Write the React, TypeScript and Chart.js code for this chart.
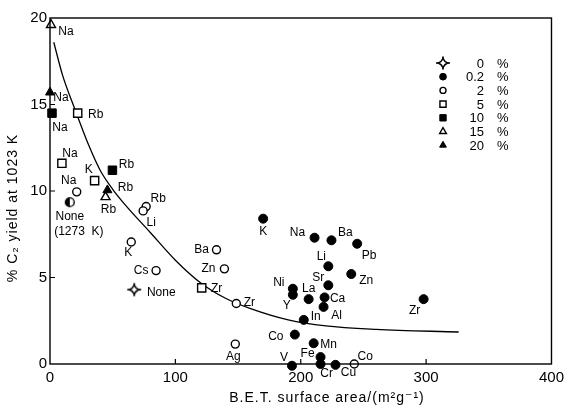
import React, { useEffect, useRef } from 'react';
import { Chart, registerables } from 'chart.js';

Chart.register(...registerables);

// ---------- data ----------
const xTicks = [0, 100, 200, 300, 400];
const yTicks = [0, 5, 10, 15, 20];
const legendValues = ['0', '0.2', '2', '5', '10', '15', '20'];

// fitted curve
const curveX = [3, 10, 20, 30, 40, 50, 60, 80, 100, 120, 140, 160, 190, 220, 260, 326];
const curveY = [18.6, 16.7, 14.7, 12.8, 11.2, 10.1, 9.2, 7.6, 6.0, 4.7, 3.8, 3.2, 2.55, 2.2, 2.0, 1.85];

// 0 % promoter
const s0Names = ['None'];
const s0X = [67.2];
const s0Y = [4.3];

// 0.2 %
const s02Names = ['K', 'Na', 'Ba', 'Pb', 'Li', 'Zn', 'Sr', 'Ni', 'Y', 'La', 'Ca', 'Al', 'Zr', 'In', 'Co', 'Mn', 'V', 'Fe', 'Cr', 'Cu'];
const s02X = [170, 211, 224.5, 245, 222, 240.3, 222, 193.7, 193.7, 206.3, 219, 218.2, 298, 202.4, 195.3, 210.3, 193, 215.8, 215.8, 227.7];
const s02Y = [8.4, 7.3, 7.15, 6.95, 5.65, 5.2, 4.55, 4.35, 4.0, 3.75, 3.85, 3.3, 3.75, 2.55, 1.7, 1.2, -0.1, 0.4, 0.0, -0.05];

// 2 %
const s2Names = ['Na', 'Rb', 'Li', 'K', 'Cs', 'Ba', 'Zn', 'Zr', 'Ag', 'Co'];
const s2X = [21.3, 76.7, 74.3, 64.8, 84.6, 132.8, 139.1, 148.6, 147.8, 242.7];
const s2Y = [9.95, 9.1, 8.85, 7.05, 5.4, 6.6, 5.5, 3.5, 1.15, 0.0];

// 5 %
const s5Names = ['Rb', 'Na', 'K', 'Zr'];
const s5X = [22.1, 9.5, 35.6, 121];
const s5Y = [14.5, 11.6, 10.6, 4.4];

// 10 %
const s10Names = ['Na', 'Rb'];
const s10X = [1.6, 49.8];
const s10Y = [14.5, 11.2];

// 15 %
const s15Names = ['Na', 'Rb'];
const s15X = [0.8, 44.3];
const s15Y = [19.6, 9.65];

// 20 %
const s20Names = ['Na', 'Rb'];
const s20X = [0, 45.8];
const s20Y = [15.7, 10.05];

// no promoter at 1273 K
const sHotNames = ['None|(1273  K)'];
const sHotX = [15.8];
const sHotY = [9.35];

// ---------- label placement (pixel offsets of label centre from the mark) ----------
const s0Off = [[27, 3]];
const s02Off = [[0, 13], [-17, -5], [14, -8], [12, 12], [-7, -10], [15, 7], [-10, -8], [-14, -6], [-6, 11], [0, -10], [13, 1], [13, 9], [-9, 12], [12, -3], [-19, 2], [15, 1], [-8, -8], [-13, -3], [6, 10], [13, 8]];
const s2Off = [[-8, -11], [12, -8], [8, 12], [-3, 11], [-15, 0], [-15, 0], [-16, 0], [13, -1], [-2, 13], [11, -7]];
const s5Off = [[18, 2], [8, -10], [-6, -11], [15, 1]];
const s10Off = [[8, 15], [14, -6]];
const s15Off = [[15, 7], [3, 13]];
const s20Off = [[11, 5], [18, -2]];
const sHotOff = [[0, 14, 9, 29]];

const FONT = '"Liberation Sans", "DejaVu Sans", Arial, sans-serif';

function makeStar(): HTMLCanvasElement {
  const c = document.createElement('canvas');
  c.width = 16; c.height = 16;
  const g = c.getContext('2d')!;
  const m = 8, r = 4.5, k = 1.4;
  g.strokeStyle = '#000';
  g.lineWidth = 1.6;
  g.fillStyle = '#fff';
  g.beginPath();
  g.moveTo(m, m - r);
  g.quadraticCurveTo(m + k, m - k, m + r, m);
  g.quadraticCurveTo(m + k, m + k, m, m + r);
  g.quadraticCurveTo(m - k, m + k, m - r, m);
  g.quadraticCurveTo(m - k, m - k, m, m - r);
  g.closePath();
  g.fill();
  g.stroke();
  g.beginPath();
  g.moveTo(m - r, m); g.lineTo(1, m);
  g.moveTo(m + r, m); g.lineTo(15, m);
  g.moveTo(m, m - r); g.lineTo(m, 1.5);
  g.moveTo(m, m + r); g.lineTo(m, 14.5);
  g.stroke();
  return c;
}

function makeHalf(): HTMLCanvasElement {
  const c = document.createElement('canvas');
  c.width = 12; c.height = 12;
  const g = c.getContext('2d')!;
  g.fillStyle = '#fff';
  g.beginPath(); g.arc(6, 6, 4.4, 0, Math.PI * 2); g.fill();
  g.fillStyle = '#000';
  g.beginPath(); g.arc(6, 6, 4.4, Math.PI / 2, Math.PI * 1.5); g.closePath(); g.fill();
  g.strokeStyle = '#000'; g.lineWidth = 1.4;
  g.beginPath(); g.arc(6, 6, 4.4, 0, Math.PI * 2); g.stroke();
  return c;
}

function pts(xs: number[], ys: number[]) {
  return xs.map((x, i) => ({ x, y: ys[i] }));
}

function drawMarker(ctx: CanvasRenderingContext2D, st: any, x: number, y: number, scale: number) {
  if (typeof st.pointStyle === 'object') {
    const im = st.pointStyle as HTMLCanvasElement;
    const w = im.width * scale, h = im.height * scale;
    ctx.drawImage(im, Math.round(x - w / 2), Math.round(y - h / 2), w, h);
    return;
  }
  const r = st.radius * scale;
  ctx.save();
  ctx.fillStyle = st.bg;
  ctx.strokeStyle = '#000';
  ctx.lineWidth = st.bw;
  ctx.beginPath();
  if (st.pointStyle === 'circle') {
    ctx.arc(x, y, r, 0, Math.PI * 2);
  } else if (st.pointStyle === 'rect') {
    const s = r * Math.SQRT1_2;
    ctx.rect(x - s, y - s, 2 * s, 2 * s);
  } else if (st.pointStyle === 'triangle') {
    for (let i = 0; i < 3; i++) {
      const a = (i * 2 * Math.PI) / 3;
      const px = x + Math.sin(a) * r, py = y - Math.cos(a) * r;
      if (i === 0) ctx.moveTo(px, py); else ctx.lineTo(px, py);
    }
    ctx.closePath();
  }
  ctx.fill();
  ctx.stroke();
  ctx.restore();
}

export default function App() {
  const ref = useRef<HTMLCanvasElement>(null);

  useEffect(() => {
    const star = makeStar();
    const half = makeHalf();

    const series = [
      { names: s0Names, xs: s0X, ys: s0Y, off: s0Off, st: { pointStyle: star, radius: 7, bg: '#fff', bw: 1.3 } },
      { names: s02Names, xs: s02X, ys: s02Y, off: s02Off, st: { pointStyle: 'circle', radius: 4.5, bg: '#000', bw: 1 } },
      { names: s2Names, xs: s2X, ys: s2Y, off: s2Off, st: { pointStyle: 'circle', radius: 4.0, bg: '#fff', bw: 1.4 } },
      { names: s5Names, xs: s5X, ys: s5Y, off: s5Off, st: { pointStyle: 'rect', radius: 5.8, bg: '#fff', bw: 1.4 } },
      { names: s10Names, xs: s10X, ys: s10Y, off: s10Off, st: { pointStyle: 'rect', radius: 6, bg: '#000', bw: 1 } },
      { names: s15Names, xs: s15X, ys: s15Y, off: s15Off, st: { pointStyle: 'triangle', radius: 5.2, bg: '#fff', bw: 1.4 } },
      { names: s20Names, xs: s20X, ys: s20Y, off: s20Off, st: { pointStyle: 'triangle', radius: 5.2, bg: '#000', bw: 1 } },
    ];
    const hot = { names: sHotNames, xs: sHotX, ys: sHotY, off: sHotOff, st: { pointStyle: half, radius: 5, bg: '#000', bw: 1 } };
    const allSeries = [...series, hot];

    const datasets: any[] = [
      {
        type: 'line',
        data: pts(curveX, curveY),
        borderColor: '#000',
        borderWidth: 1.3,
        pointRadius: 0,
        showLine: true,
        fill: false,
        cubicInterpolationMode: 'monotone',
        order: 10,
        clip: false,
      },
      ...allSeries.map((s) => ({
        type: 'scatter',
        data: pts(s.xs, s.ys),
        pointStyle: s.st.pointStyle,
        pointRadius: s.st.radius,
        pointBackgroundColor: s.st.bg,
        pointBorderColor: '#000',
        pointBorderWidth: s.st.bw,
        order: 0,
        clip: false,
      })),
    ];

    const annot = {
      id: 'annot',
      afterDatasetsDraw(chart: any) {
        const ctx: CanvasRenderingContext2D = chart.ctx;
        const { left, right, top, bottom } = chart.chartArea;
        const xs = chart.scales.x, ys = chart.scales.y;
        ctx.save();
        // frame
        ctx.strokeStyle = '#000';
        ctx.lineWidth = 1.4;
        ctx.strokeRect(left, top, right - left, bottom - top);
        // inward ticks
        ctx.lineWidth = 1.2;
        ctx.beginPath();
        xTicks.slice(1, -1).forEach((v) => {
          const px = xs.getPixelForValue(v);
          ctx.moveTo(px, bottom); ctx.lineTo(px, bottom - 5);
        });
        yTicks.slice(1, -1).forEach((v) => {
          const py = ys.getPixelForValue(v);
          ctx.moveTo(left, py); ctx.lineTo(left + 5, py);
        });
        ctx.stroke();

        // point labels
        ctx.fillStyle = '#000';
        ctx.font = `12px ${FONT}`;
        ctx.textAlign = 'center';
        ctx.textBaseline = 'middle';
        allSeries.forEach((s, si) => {
          const meta = chart.getDatasetMeta(si + 1);
          s.names.forEach((name, i) => {
            const el = meta.data[i];
            const o = s.off[i];
            const parts = name.split('|');
            ctx.fillText(parts[0], el.x + o[0], el.y + o[1]);
            if (parts[1]) ctx.fillText(parts[1], el.x + o[2], el.y + o[3]);
          });
        });

        // legend
        const lx = left + 393, ly0 = top + 45, gap = 13.7;
        series.forEach((s, i) => {
          const y = ly0 + i * gap;
          drawMarker(ctx, s.st, lx, y, i === 0 ? 1 : 0.75);
          ctx.fillStyle = '#000';
          ctx.font = `13px ${FONT}`;
          ctx.textAlign = 'right';
          ctx.fillText(legendValues[i], lx + 41, y + 1);
          ctx.textAlign = 'left';
          ctx.fillText('%', lx + 54, y + 1);
        });

        // axis titles
        ctx.font = `14px ${FONT}`;
        (ctx as any).letterSpacing = '1px';
        ctx.textAlign = 'center';
        ctx.textBaseline = 'middle';
        ctx.fillText('B.E.T. surface area/(m²g⁻¹)', left + 277, bottom + 34);
        ctx.save();
        ctx.translate(left - 37, top + 190);
        ctx.rotate(-Math.PI / 2);
        ctx.fillText('% C₂ yield at 1023 K', 0, 0);
        ctx.restore();
        (ctx as any).letterSpacing = '0px';
        ctx.restore();
      },
    };

    const chart = new Chart(ref.current!, {
      type: 'scatter',
      data: { datasets },
      options: {
        responsive: false,
        animation: false,
        devicePixelRatio: 1,
        events: [],
        layout: { padding: { left: 0, top: 18, right: 13, bottom: 0 } },
        plugins: { legend: { display: false }, tooltip: { enabled: false } },
        scales: {
          x: {
            type: 'linear',
            min: 0,
            max: 400,
            afterBuildTicks: (s: any) => { s.ticks = xTicks.map((v) => ({ value: v })); },
            afterFit: (s: any) => { s.height = 44; },
            ticks: { color: '#000', font: { size: 15, family: FONT }, padding: 5, maxRotation: 0 },
            grid: { display: false, drawTicks: false },
            border: { display: false },
          },
          y: {
            type: 'linear',
            min: 0,
            max: 20,
            afterBuildTicks: (s: any) => { s.ticks = yTicks.map((v) => ({ value: v })); },
            afterFit: (s: any) => { s.width = 50; },
            ticks: { color: '#000', font: { size: 15, family: FONT }, padding: 3 },
            grid: { display: false, drawTicks: false },
            border: { display: false },
          },
        },
      },
      plugins: [annot],
    } as any);
    return () => chart.destroy();
  }, []);

  return (
    <div style={{ position: 'absolute', left: 0, top: 0, width: 569, height: 408, background: '#fff' }}>
      <canvas ref={ref} width={569} height={408} />
    </div>
  );
}
